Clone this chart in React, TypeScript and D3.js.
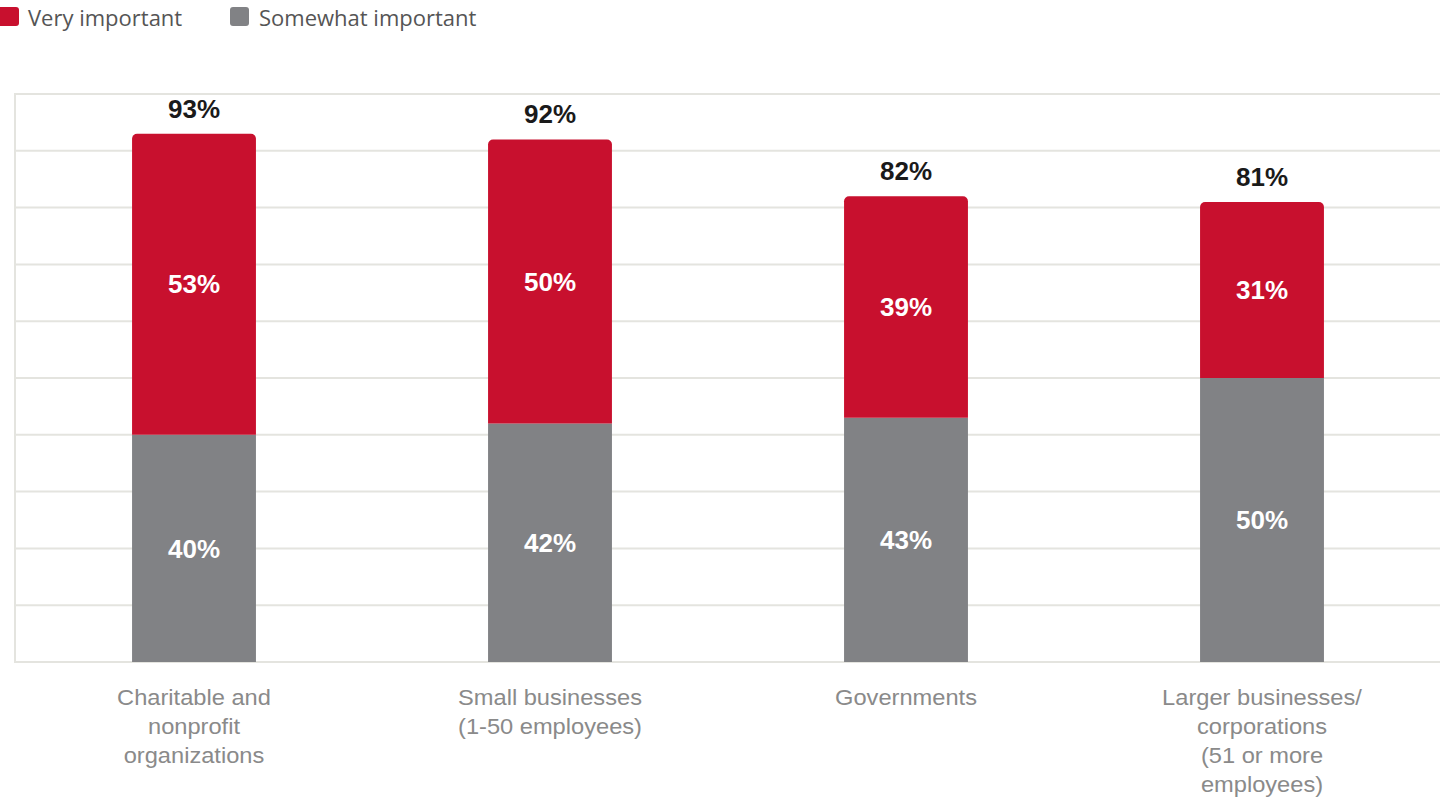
import React from 'react';
import * as d3 from 'd3';

const categories = [
  ['Charitable and', 'nonprofit', 'organizations'],
  ['Small businesses', '(1-50 employees)'],
  ['Governments'],
  ['Larger businesses/', 'corporations', '(51 or more', 'employees)'],
];
const somewhat = [40, 42, 43, 50];
const very = [53, 50, 39, 31];
const totals = [93, 92, 82, 81];
const yTicks = d3.range(0, 101, 10);

const RED = '#c8102e';
const GRAY = '#818285';
const W = 1440;
const H = 806;

export default function App() {
  const x = d3.scaleBand<number>()
    .domain(d3.range(categories.length))
    .range([16, 1440])
    .paddingInner(0.652)
    .paddingOuter(0.326);
  const y = d3.scaleLinear().domain([0, 100]).range([662, 94]);
  const bw = x.bandwidth();
  const r = 5;

  // path for a bar with rounded top corners only
  const topRounded = (x0: number, y0: number, w: number, h: number) => {
    const p = d3.path();
    p.moveTo(x0, y0 + h);
    p.lineTo(x0, y0 + r);
    p.arcTo(x0, y0, x0 + r, y0, r);
    p.lineTo(x0 + w - r, y0);
    p.arcTo(x0 + w, y0, x0 + w, y0 + r, r);
    p.lineTo(x0 + w, y0 + h);
    p.closePath();
    return p.toString();
  };

  return (
    <svg width={W} height={H} style={{ position: 'absolute', left: 0, top: 0, background: '#fff' }}>
      {/* legend */}
      <g fontFamily="'Open Sans', 'Noto Sans', sans-serif" fontSize={22} fill="#555">
        <rect x={-2} y={7} width={21} height={19} rx={3} fill={RED} />
        <text x={28} y={26}>Very important</text>
        <rect x={230} y={7} width={19} height={19} rx={3} fill={GRAY} />
        <text x={259} y={26}>Somewhat important</text>
      </g>

      {/* grid */}
      {yTicks.map(t => (
        <line key={t} x1={14} x2={W} y1={y(t)} y2={y(t)} stroke="#e4e4df" strokeWidth={2} />
      ))}
      <line x1={15} x2={15} y1={y(100)} y2={y(0)} stroke="#e4e4df" strokeWidth={2} />

      {/* bars */}
      {categories.map((_, i) => {
        const x0 = x(i)!;
        const cx = x0 + bw / 2;
        const yTop = y(somewhat[i] + very[i]);
        const yMid = y(somewhat[i]);
        return (
          <g key={i} fontFamily="'Liberation Sans', Arial, sans-serif" fontWeight="bold" fontSize={26} textAnchor="middle">
            <rect x={x0} y={yMid} width={bw} height={y(0) - yMid} fill={GRAY} />
            <path d={topRounded(x0, yTop, bw, yMid - yTop)} fill={RED} />
            <text x={cx} y={(yMid + y(0)) / 2} dy="0.35em" fill="#fff">{somewhat[i]}%</text>
            <text x={cx} y={(yTop + yMid) / 2} dy="0.35em" fill="#fff">{very[i]}%</text>
            <text x={cx} y={y(totals[i]) - 16} fill="#1a1a1a">{totals[i]}%</text>
          </g>
        );
      })}

      {/* category labels */}
      {categories.map((lines, i) => (
        <text key={i} transform={`translate(${x(i)! + bw / 2},705) scale(1.1,1)`} textAnchor="middle"
          fontFamily="'Liberation Sans', Arial, sans-serif" fontSize={21.5} fill="#8a8a8a">
          {lines.map((l, j) => (
            <tspan key={j} x={0} y={j * 29}>{l}</tspan>
          ))}
        </text>
      ))}
    </svg>
  );
}
